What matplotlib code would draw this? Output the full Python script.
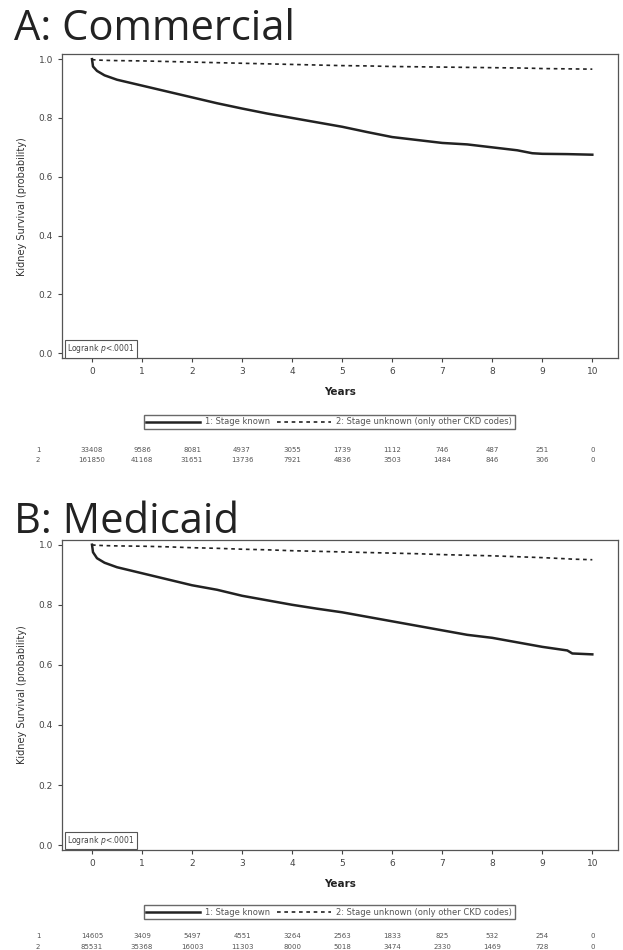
import numpy as np
import matplotlib
matplotlib.use("Agg")
import matplotlib.pyplot as plt

# years at which the survival curves are read
com_t = [0, 0.02, 0.1, 0.25, 0.5, 1, 1.5, 2, 2.5, 3, 3.5, 4, 4.5, 5, 5.5, 6, 6.5, 7, 7.5, 8, 8.5, 8.8, 9, 9.5, 10]
com_known = [1.0, 0.975, 0.96, 0.945, 0.93, 0.91, 0.89, 0.87, 0.85, 0.832, 0.815, 0.80, 0.785, 0.77, 0.752, 0.735,
             0.725, 0.715, 0.71, 0.70, 0.69, 0.68, 0.678, 0.677, 0.675]
com_unknown = [1.0, 0.998, 0.997, 0.996, 0.995, 0.994, 0.992, 0.99, 0.988, 0.986, 0.984, 0.982, 0.98, 0.978, 0.977,
               0.975, 0.974, 0.973, 0.972, 0.971, 0.970, 0.969, 0.968, 0.967, 0.966]

med_t = [0, 0.02, 0.1, 0.25, 0.5, 1, 1.5, 2, 2.5, 3, 3.5, 4, 4.5, 5, 5.5, 6, 6.5, 7, 7.5, 8, 8.5, 9, 9.5, 9.6, 10]
med_known = [1.0, 0.975, 0.955, 0.94, 0.925, 0.905, 0.885, 0.865, 0.85, 0.83, 0.815, 0.80, 0.787, 0.775, 0.76, 0.745,
             0.73, 0.715, 0.70, 0.69, 0.675, 0.66, 0.648, 0.638, 0.635]
med_unknown = [1.0, 0.999, 0.998, 0.997, 0.996, 0.995, 0.993, 0.99, 0.988, 0.985, 0.983, 0.98, 0.978, 0.976, 0.974,
               0.972, 0.97, 0.967, 0.965, 0.963, 0.96, 0.957, 0.953, 0.952, 0.95]

risk_years = [0, 1, 2, 3, 4, 5, 6, 7, 8, 9, 10]
com_risk1 = ["33408", "9586", "8081", "4937", "3055", "1739", "1112", "746", "487", "251", "0"]
com_risk2 = ["161850", "41168", "31651", "13736", "7921", "4836", "3503", "1484", "846", "306", "0"]
med_risk1 = ["14605", "3409", "5497", "4551", "3264", "2563", "1833", "825", "532", "254", "0"]
med_risk2 = ["85531", "35368", "16003", "11303", "8000", "5018", "3474", "2330", "1469", "728", "0"]

labels = ["1: Stage known", "2: Stage unknown (only other CKD codes)"]

fig = plt.figure(figsize=(6.23, 9.5), dpi=100)


def panel(rect, title, title_y, t, known, unknown, r1, r2, leg_y, r_y):
    ax = fig.add_axes(rect)
    ax.plot(t, known, color='#222222', lw=1.8, label=labels[0])
    ax.plot(t, unknown, color='#222222', lw=1.2,
            linestyle=(0, (2.2, 2.2)), label=labels[1])
    ax.set_xlim(-0.6, 10.52)
    ax.set_ylim(-0.017, 1.017)
    ax.set_xticks(risk_years)
    ax.set_yticks([0.0, 0.2, 0.4, 0.6, 0.8, 1.0])
    ax.set_yticklabels(['0.0', '0.2', '0.4', '0.6', '0.8', '1.0'])
    ax.tick_params(labelsize=6.5, colors='#444444', length=3, width=0.8)
    for s in ax.spines.values():
        s.set_color('#555555')
        s.set_linewidth(0.9)
    ax.set_xlabel('Years', fontsize=7.5, fontweight='bold', labelpad=8, color='#222222')
    ax.set_ylabel('Kidney Survival (probability)', fontsize=7, color='#333333', labelpad=8)
    ax.text(-0.5, 0.015, 'Logrank $p$<.0001', fontsize=5.5, color='#444444', va='center',
            bbox=dict(boxstyle='square,pad=0.3', fc='white', ec='#555555', lw=0.8))
    fig.text(0.022, title_y, title, fontsize=30, family='Open Sans', color='#222222', va='center')
    leg = ax.legend(loc='center', bbox_to_anchor=(0.48, leg_y), ncol=2, fontsize=6,
                    frameon=True, fancybox=False, edgecolor='#444444', handlelength=6.5,
                    borderpad=0.3, columnspacing=0.8, handletextpad=0.6)
    for tx in leg.get_texts():
        tx.set_color('#555555')
    tr = ax.get_xaxis_transform()
    for row, vals in ((0, r1), (1, r2)):
        y = r_y - row * 0.034
        ax.text(-1.08, y, str(row + 1), transform=tr, fontsize=5, color='#555555',
                ha='center', va='center', clip_on=False)
        for x, v in zip(risk_years, vals):
            ax.text(x, y, v, transform=tr, fontsize=5, color='#555555',
                    ha='center', va='center', clip_on=False)
    return ax


panel([0.0995, 0.623, 0.893, 0.32], 'A: Commercial', 0.970, com_t, com_known, com_unknown,
      com_risk1, com_risk2, -0.21, -0.302)
panel([0.0995, 0.105, 0.893, 0.327], 'B: Medicaid', 0.451, med_t, med_known, med_unknown,
      med_risk1, med_risk2, -0.2, -0.277)

fig.savefig('out.png', dpi=100)
